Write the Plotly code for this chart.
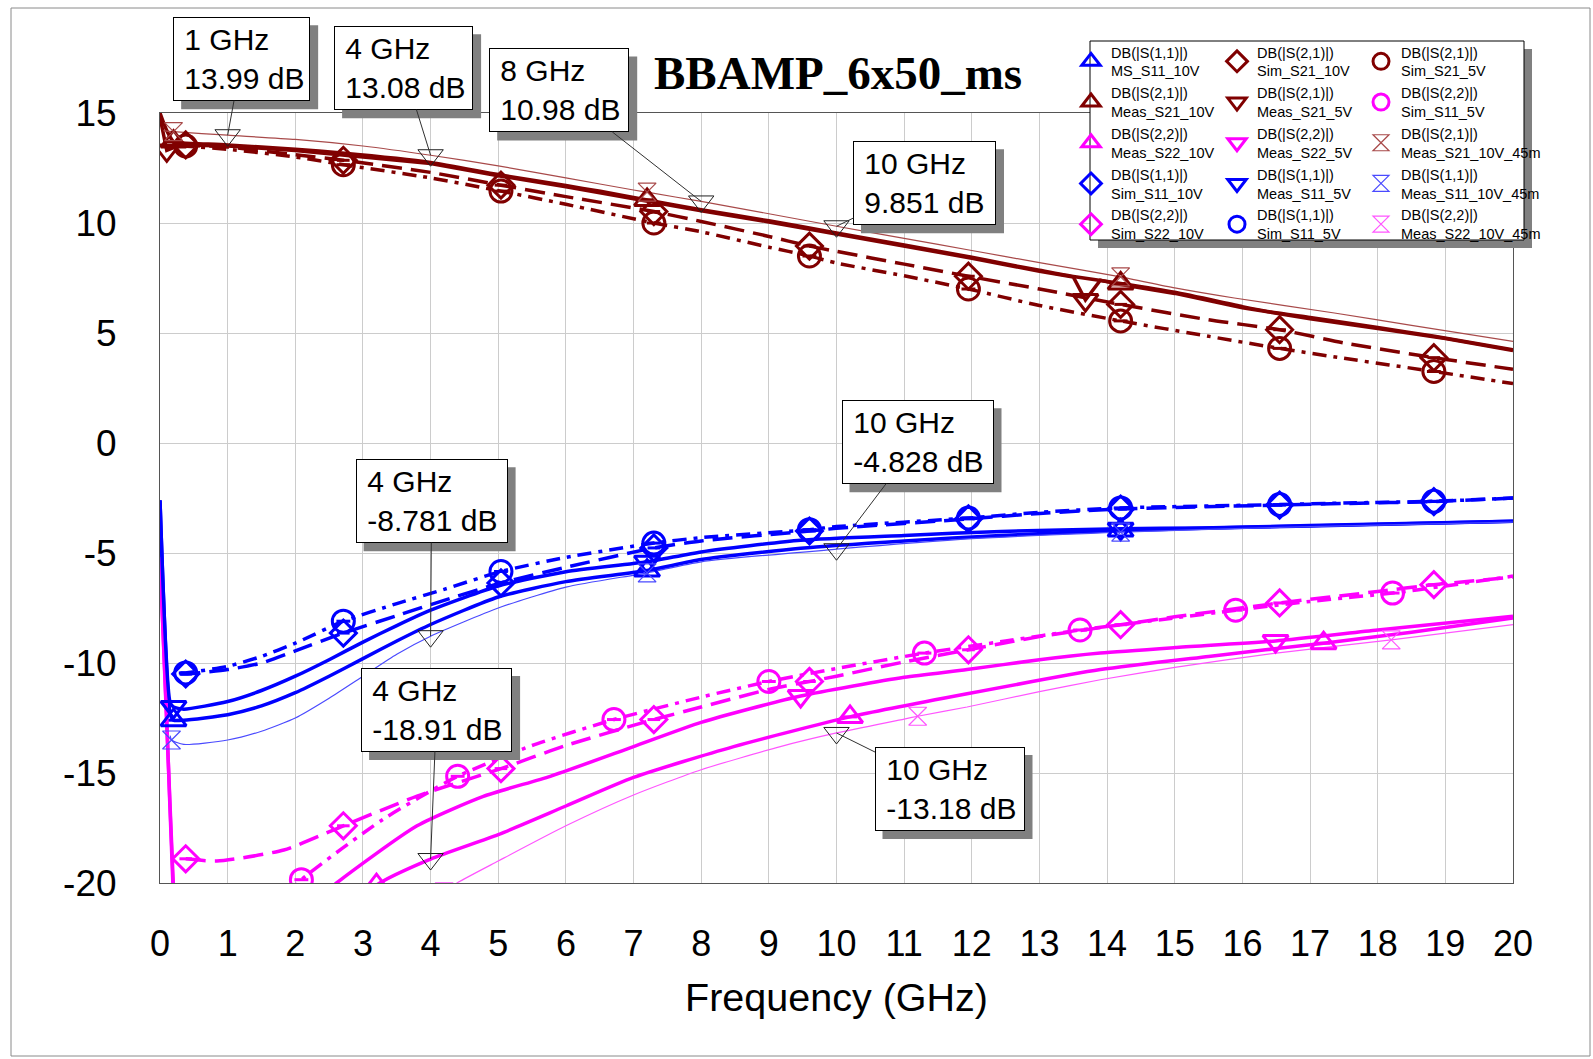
import plotly.graph_objects as go

# ---------------- data ----------------
# S21 group (dark red)
f_s21_meas10 = [0.0, 0.1, 0.2, 0.34, 1, 2, 2.69, 4, 5, 6, 6.51, 7.2, 8, 9, 10, 11, 12, 12.43, 13, 13.5, 14.2, 15, 16, 16.37, 17, 18, 18.84, 20]
db_s21_meas10 = [15.0, 14.2, 13.7, 13.64, 13.55, 13.35, 13.18, 12.75, 12.2, 11.7, 11.44, 11.05, 10.6, 10.1, 9.55, 9.0, 8.45, 8.18, 7.85, 7.57, 7.25, 6.85, 6.2, 5.98, 5.7, 5.25, 4.85, 4.24]
mk_s21_meas10 = [0.2, 7.2, 14.2]

f_s21_sim10 = [0.3, 0.38, 1, 2, 2.71, 4, 5.04, 6, 7.3, 8, 9, 9.6, 10, 11, 11.95, 13, 14.2, 15.5, 16.55, 17.5, 18.83, 20]
db_s21_sim10 = [13.6, 13.55, 13.45, 13.1, 12.85, 12.3, 11.72, 11.2, 10.52, 10.07, 9.39, 8.95, 8.71, 8.13, 7.58, 7.0, 6.3, 5.6, 5.15, 4.55, 3.88, 3.35]
mk_s21_sim10 = [0.38, 2.71, 5.04, 7.3, 9.6, 11.95, 14.2, 16.55, 18.83]

f_s21_sim5 = [0.3, 0.38, 1, 2, 2.71, 4, 5.04, 6, 7.3, 8, 9, 9.6, 10, 11, 11.95, 13, 14.2, 15.5, 16.55, 17.5, 18.83, 20]
db_s21_sim5 = [13.55, 13.5, 13.35, 13.0, 12.65, 12.05, 11.45, 10.85, 10.0, 9.6, 8.9, 8.5, 8.18, 7.6, 7.0, 6.25, 5.55, 4.85, 4.3, 3.85, 3.25, 2.7]
mk_s21_sim5 = [0.38, 2.71, 5.04, 7.3, 9.6, 11.95, 14.2, 16.55, 18.83]

f_s21_meas5 = [0.0, 0.1, 0.3, 1, 2, 3, 4, 5, 6, 7, 8, 9, 10, 11, 12, 13, 13.5, 13.68, 13.9, 14.2, 15, 16, 17, 18, 19, 20]
db_s21_meas5 = [14.8, 13.3, 13.55, 13.5, 13.3, 13.0, 12.7, 12.15, 11.65, 11.1, 10.55, 10.05, 9.5, 8.95, 8.4, 7.8, 7.55, 6.5, 7.4, 7.2, 6.8, 6.15, 5.65, 5.2, 4.75, 4.2]
mk_s21_meas5 = [0.1, 13.68]

f_s21_45m = [0.05, 0.2, 1, 2, 3, 4, 5, 6, 7, 7.2, 8, 9, 10, 11, 12, 13, 14.2, 15, 15.88, 17.36, 18.5, 20]
db_s21_45m = [14.2, 14.15, 13.99, 13.8, 13.5, 13.08, 12.6, 12.05, 11.5, 11.4, 10.98, 10.42, 9.851, 9.3, 8.75, 8.2, 7.55, 7.05, 6.59, 5.91, 5.35, 4.62]
mk_s21_45m = [0.2, 7.2, 14.2]

# S11 group (blue)
f_s11_meas10 = [0.0, 0.15, 0.2, 0.35, 1, 1.5, 2, 2.5, 3, 3.5, 4, 5, 6, 7.2, 8, 9.47, 11, 12.43, 14.2, 15.4, 17, 20]
db_s11_meas10 = [-2.6, -12.3, -12.6, -12.6, -12.35, -11.95, -11.35, -10.6, -9.8, -9.0, -8.25, -7.0, -6.3, -5.8, -5.3, -4.78, -4.45, -4.2, -3.98, -3.88, -3.77, -3.56]
mk_s11_meas10 = [0.2, 7.2, 14.2]

f_s11_meas5 = [0.0, 0.15, 0.2, 0.35, 1, 1.5, 2, 2.5, 3, 3.5, 4, 5, 6, 7.2, 8, 9.47, 11, 12.43, 14.2, 15.4, 17, 20]
db_s11_meas5 = [-2.6, -11.8, -12.0, -12.1, -11.75, -11.25, -10.6, -9.85, -9.05, -8.3, -7.6, -6.5, -5.85, -5.4, -4.95, -4.42, -4.2, -4.02, -3.9, -3.86, -3.75, -3.56]
mk_s11_meas5 = [0.2, 7.2, 14.2]

f_s11_45m = [0.15, 0.17, 0.35, 1, 1.5, 2, 2.5, 3, 3.5, 4, 5, 6, 7.2, 8, 10, 12, 14.2, 17, 20]
db_s11_45m = [-13.3, -13.5, -13.7, -13.5, -13.1, -12.5, -11.6, -10.6, -9.6, -8.781, -7.5, -6.55, -5.9, -5.4, -4.828, -4.35, -4.05, -3.8, -3.6]
mk_s11_45m = [0.17, 7.2, 14.2]

f_s11_sim = [0.3, 0.38, 1, 1.5, 2, 2.71, 3.5, 4.2, 5.04, 6, 7.3, 8, 9.6, 10, 11.95, 13, 14.2, 16.55, 17.5, 18.83, 20]
db_s11_sim10 = [-10.5, -10.5, -10.3, -10.0, -9.45, -8.64, -7.85, -7.15, -6.36, -5.65, -4.77, -4.45, -4.0, -3.88, -3.45, -3.2, -3.0, -2.82, -2.75, -2.66, -2.5]
db_s11_sim5 = [-10.45, -10.45, -10.15, -9.7, -9.1, -8.1, -7.3, -6.65, -5.84, -5.2, -4.55, -4.3, -3.94, -3.8, -3.41, -3.15, -2.95, -2.8, -2.73, -2.65, -2.5]
mk_s11_sim = [0.38, 2.71, 5.04, 7.3, 9.6, 11.95, 14.2, 16.55, 18.83]

# S22 group (magenta)
f_s22_sim10 = [0.38, 0.84, 1.83, 2.71, 3.8, 5.04, 6, 7.3, 8, 9, 9.6, 10, 11, 11.95, 13, 14.2, 15, 16.55, 18, 18.83, 20]
db_s22_sim10 = [-18.9, -19.0, -18.5, -17.4, -16.05, -14.8, -13.75, -12.57, -12.0, -11.2, -10.84, -10.6, -9.95, -9.4, -8.8, -8.26, -7.9, -7.27, -6.75, -6.44, -6.1]
mk_s22_sim10 = [0.38, 2.71, 5.04, 7.3, 9.6, 11.95, 14.2, 16.55, 18.83]

f_s22_sim5 = [1.2, 2.09, 3.3, 4.4, 5.5, 6.71, 8, 9.0, 10, 11.3, 12.5, 13.6, 15, 15.9, 17, 18.22, 19, 20]
db_s22_sim5 = [-22.5, -19.85, -17.1, -15.15, -13.75, -12.57, -11.55, -10.84, -10.25, -9.55, -9.0, -8.5, -7.95, -7.6, -7.2, -6.82, -6.5, -6.05]
mk_s22_sim5 = [2.09, 4.4, 6.71, 9.0, 11.3, 13.6, 15.9, 18.22]

f_s22_meas5 = [0.0, 0.1, 0.19, 0.3, 1, 2, 2.61, 3.8, 4.78, 5.77, 7, 8, 9.47, 11, 11.93, 13, 13.9, 15, 16.49, 18, 20]
db_s22_meas5 = [-5.2, -12.6, -20.0, -26, -25, -21.6, -20, -17.4, -16.06, -15.15, -13.8, -12.7, -11.5, -10.65, -10.3, -9.85, -9.55, -9.3, -9.0, -8.5, -7.88]
mk_s22_meas5 = [9.47, 16.49]

f_s22_meas10 = [0.0, 0.1, 0.2, 0.3, 1, 2, 3.2, 4, 5, 6, 7, 8.48, 10.2, 11.93, 13.9, 15.5, 17.2, 18.5, 20]
db_s22_meas10 = [-5.2, -12.8, -20.3, -27, -28, -24, -20.1, -18.91, -17.8, -16.5, -15.2, -13.8, -12.45, -11.4, -10.3, -9.7, -9.1, -8.6, -7.95]
mk_s22_meas10 = [3.2, 10.2, 17.2]

f_s22_45m = [3.5, 4.2, 4.39, 5, 6, 7, 8, 9.17, 10, 11, 11.2, 11.93, 13, 13.9, 15, 16.5, 18.2, 20]
db_s22_45m = [-21.5, -20.4, -20, -19.0, -17.4, -16.0, -14.85, -13.8, -13.18, -12.55, -12.42, -12.0, -11.3, -10.76, -10.2, -9.55, -8.95, -8.26]
mk_s22_45m = [4.2, 11.2, 18.2]

# marker read-outs
ro_freq = [1, 4, 8, 10, 10, 4, 4, 10]
ro_db = [13.99, 13.08, 10.98, 9.851, -4.828, -8.781, -18.91, -13.18]

# axis ticks
x_tickvals = list(range(0, 21))
y_tickvals = [-20, -15, -10, -5, 0, 5, 10, 15]
y_ticktext = ["-20", "-15", "-10", "-5", "0", "5", "10", "15"]

# ---------------- styling ----------------
DR, DR_T = "#800000", "#a84a4a"
BL, BL_T = "#0000ff", "#4a4aff"
MG, MG_T = "#ff00ff", "#ff55ff"
DASH = "20px,9px"
DASHDOT = "14px,7px,4px,7px"
FONT = "Liberation Sans, Arial, sans-serif"
THICK = 3.5

X0, X1, Y0, Y1 = 160, 1513, 113, 883   # plot area in pixels


def px_x(X):
    return (X - X0) / (X1 - X0)


def px_y(Y):
    return (Y1 - Y) / (Y1 - Y0)


fig = go.Figure()
line_traces = []
marker_traces = []


def series(label, f, db, mk, color, width, dash, symbol, msize, mwidth, legend, bar=True, shape="spline"):
    line_traces.append(go.Scatter(x=f, y=db, mode="lines", showlegend=False, hoverinfo="skip",
                                  line=dict(color=color, width=width, dash=dash, shape=shape, smoothing=0.6)))
    idx = [i for i, v in enumerate(f) if v in mk]
    mx = [f[i] for i in idx]
    my = [db[i] for i in idx]
    marker_traces.append(go.Scatter(
        x=mx, y=my, mode="markers", name=label, legend=legend,
        marker=dict(symbol=symbol, size=msize, color=color, line=dict(color=color, width=mwidth))))
    if bar:
        line_traces.append(go.Scatter(
            x=mx, y=my, mode="markers", showlegend=False, hoverinfo="skip",
            marker=dict(symbol="line-ew", size=msize * 0.45, line=dict(color=color, width=mwidth))))


# legend column 1
series("DB(|S(1,1)|)<br>MS_S11_10V", f_s11_meas10, db_s11_meas10, mk_s11_meas10, BL, THICK, "solid", "triangle-up-open", 22, 3, "legend")
series("DB(|S(2,1)|)<br>Meas_S21_10V", f_s21_meas10, db_s21_meas10, mk_s21_meas10, DR, THICK, "solid", "triangle-up-open", 22, 3, "legend")
series("DB(|S(2,2)|)<br>Meas_S22_10V", f_s22_meas10, db_s22_meas10, mk_s22_meas10, MG, THICK, "solid", "triangle-up-open", 22, 3, "legend")
series("DB(|S(1,1)|)<br>Sim_S11_10V", f_s11_sim, db_s11_sim10, mk_s11_sim, BL, THICK, DASH, "diamond-open", 20, 3, "legend")
series("DB(|S(2,2)|)<br>Sim_S22_10V", f_s22_sim10, db_s22_sim10, mk_s22_sim10, MG, THICK, DASH, "diamond-open", 20, 3, "legend")
# legend column 2
series("DB(|S(2,1)|)<br>Sim_S21_10V", f_s21_sim10, db_s21_sim10, mk_s21_sim10, DR, THICK, DASH, "diamond-open", 20, 3, "legend2")
series("DB(|S(2,1)|)<br>Meas_S21_5V", f_s21_meas5, db_s21_meas5, mk_s21_meas5, DR, THICK, "solid", "triangle-down-open", 22, 3, "legend2", bar=False, shape="linear")
series("DB(|S(2,2)|)<br>Meas_S22_5V", f_s22_meas5, db_s22_meas5, mk_s22_meas5, MG, THICK, "solid", "triangle-down-open", 22, 3, "legend2", bar=False)
series("DB(|S(1,1)|)<br>Meas_S11_5V", f_s11_meas5, db_s11_meas5, mk_s11_meas5, BL, THICK, "solid", "triangle-down-open", 22, 3, "legend2", bar=False)
series("DB(|S(1,1)|)<br>Sim_S11_5V", f_s11_sim, db_s11_sim5, mk_s11_sim, BL, THICK, DASHDOT, "circle-open", 22, 3, "legend2")
# legend column 3
series("DB(|S(2,1)|)<br>Sim_S21_5V", f_s21_sim5, db_s21_sim5, mk_s21_sim5, DR, THICK, DASHDOT, "circle-open", 22, 3, "legend3")
series("DB(|S(2,2)|)<br>Sim_S11_5V", f_s22_sim5, db_s22_sim5, mk_s22_sim5, MG, THICK, DASHDOT, "circle-open", 22, 3, "legend3")
series("DB(|S(2,1)|)<br>Meas_S21_10V_45m", f_s21_45m, db_s21_45m, mk_s21_45m, DR_T, 1.2, "solid", "hourglass-open", 18, 1.2, "legend3", bar=False)
series("DB(|S(1,1)|)<br>Meas_S11_10V_45m", f_s11_45m, db_s11_45m, mk_s11_45m, BL_T, 1.2, "solid", "hourglass-open", 18, 1.2, "legend3", bar=False)
series("DB(|S(2,2)|)<br>Meas_S22_10V_45m", f_s22_45m, db_s22_45m, mk_s22_45m, MG_T, 1.2, "solid", "hourglass-open", 18, 1.2, "legend3", bar=False)

for t in line_traces:
    fig.add_trace(t)
for t in marker_traces:
    fig.add_trace(t)

# marker read-out triangles
fig.add_trace(go.Scatter(x=ro_freq, y=ro_db, mode="markers", showlegend=False, hoverinfo="skip",
                         marker=dict(symbol="triangle-down-open", size=22, color="#202020",
                                     line=dict(color="#202020", width=1))))

# read-out boxes: offsets (px) of box centre from the point and outer box size
box_ax = [14, -27, -142, 88, 81, 1, 6, 113]
box_ay = [-76, -87, -111, -43, -107, -135, -149, 56]
box_w = [137, 139, 140, 143, 152, 152, 151, 150]
BOX_H = 84
shapes = []
annotations = []
for f, d, ax, ay, w in zip(ro_freq, ro_db, box_ax, box_ay, box_w):
    xa = f / 20.0
    ya = (d + 20.0) / 35.0
    shapes.append(dict(type="rect", xref="paper", yref="paper", xsizemode="pixel", ysizemode="pixel",
                       xanchor=xa, yanchor=ya,
                       x0=ax - w / 2 + 8, x1=ax + w / 2 + 8,
                       y0=-(ay + BOX_H / 2 + 8), y1=-(ay - BOX_H / 2 + 8),
                       fillcolor="#808080", line=dict(width=0), layer="above"))
    annotations.append(dict(x=f, y=d, xref="x", yref="y", ax=ax, ay=ay, axref="pixel", ayref="pixel",
                            text="\u00a0%g GHz<br>\u00a0%s dB" % (f, d), showarrow=True, arrowhead=0,
                            arrowwidth=1, arrowcolor="#303030", standoff=0,
                            align="left", width=w - 6, height=BOX_H - 6, borderpad=2, borderwidth=1,
                            bordercolor="#000000", bgcolor="#ffffff",
                            font=dict(family=FONT, size=30, color="#000000")))

# legend box
LB = (1090, 41, 1524, 240)
shapes.append(dict(type="rect", xref="paper", yref="paper",
                   x0=px_x(LB[0] + 8), x1=px_x(LB[2] + 8), y0=px_y(LB[3] + 8), y1=px_y(LB[1] + 8),
                   fillcolor="#808080", line=dict(width=0), layer="above"))
shapes.append(dict(type="rect", xref="paper", yref="paper",
                   x0=px_x(LB[0]), x1=px_x(LB[2]), y0=px_y(LB[3]), y1=px_y(LB[1]),
                   fillcolor="#ffffff", line=dict(color="#000000", width=1), layer="above"))
# outer frame
shapes.append(dict(type="rect", xref="paper", yref="paper",
                   x0=px_x(11), x1=px_x(1590), y0=px_y(1056), y1=px_y(8),
                   line=dict(color="#8a8a8a", width=1), layer="below"))

annotations.append(dict(x=px_x(838), y=px_y(73), xref="paper", yref="paper", showarrow=False,
                        xanchor="center", yanchor="middle",
                        text="<b>BBAMP_6x50_ms</b>",
                        font=dict(family="Liberation Serif, Times New Roman, serif", size=47, color="#000000")))

leg_common = dict(bgcolor="rgba(0,0,0,0)", borderwidth=0, xanchor="left", yanchor="top",
                  font=dict(family=FONT, size=14.5, color="#000000"), itemclick=False, tracegroupgap=0)
LEG_TOP = 36
fig.update_layout(
    legend=dict(x=px_x(1071), y=px_y(LEG_TOP), **leg_common),
    legend2=dict(x=px_x(1217), y=px_y(LEG_TOP), **leg_common),
    legend3=dict(x=px_x(1361), y=px_y(LEG_TOP), **leg_common),
)

fig.update_layout(
    width=1593, height=1059, autosize=False,
    margin=dict(l=X0, r=1593 - X1, t=Y0, b=1059 - Y1, pad=0),
    paper_bgcolor="#ffffff", plot_bgcolor="#ffffff",
    font=dict(family=FONT, color="#000000"),
    shapes=shapes, annotations=annotations,
    xaxis=dict(range=[0, 20], tickmode="array", tickvals=x_tickvals, showgrid=True, gridcolor="#cccccc", gridwidth=1,
               zeroline=False, showline=True, mirror=True, linecolor="#555555", linewidth=1,
               ticks="", tickfont=dict(family=FONT, size=36, color="#000000"), ticklabelstandoff=29,
               title=dict(text="Frequency (GHz)", font=dict(family=FONT, size=39.5, color="#000000"), standoff=20)),
    yaxis=dict(range=[-20, 15], tickmode="array", tickvals=y_tickvals, ticktext=y_ticktext,
               showgrid=True, gridcolor="#cccccc", gridwidth=1,
               zeroline=False, showline=True, mirror=True, linecolor="#555555", linewidth=1,
               ticks="", tickfont=dict(family=FONT, size=37, color="#000000"), ticklabelstandoff=35),
)

fig.write_html("out.html")
